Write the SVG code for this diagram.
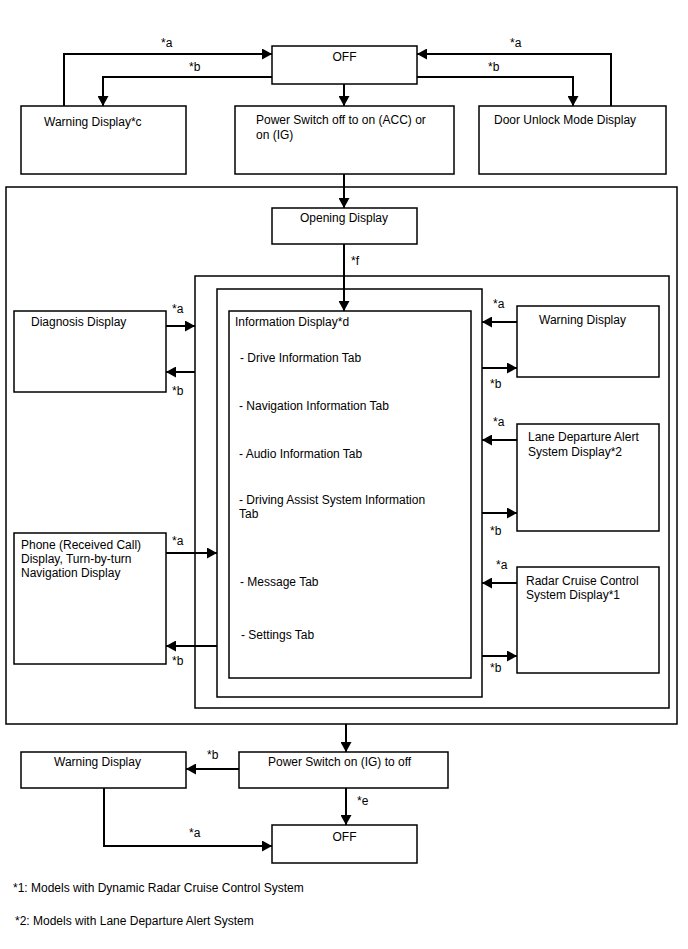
<svg xmlns="http://www.w3.org/2000/svg" width="688" height="949" viewBox="0 0 688 949">
<style>
.box{fill:#fff;stroke:#000;stroke-width:1.5}
.frame{fill:none;stroke:#000;stroke-width:1.5}
.c{fill:none;stroke:#000;stroke-width:2;marker-end:url(#ah)}
.cn{fill:none;stroke:#000;stroke-width:2}
text{font-family:"Liberation Sans",Arial,sans-serif;font-size:12px;fill:#000}
.m{text-anchor:middle}
</style>
<defs>
<marker id="ah" markerUnits="userSpaceOnUse" markerWidth="11" markerHeight="11" refX="10" refY="5.5" orient="auto">
<path d="M0,0 L10,5.5 L0,11 Z" fill="#000"/>
</marker>
</defs>
<rect width="688" height="949" fill="#fff"/>

<g id="frames">
<rect class="frame" x="6" y="187" width="671" height="537"/>
<rect class="frame" x="195" y="276" width="474" height="432"/>
<rect class="frame" x="217" y="289" width="265" height="408"/>
</g>

<g id="off-top"><rect class="box" x="272" y="46" width="145" height="38"/><text class="m" x="344.5" y="61">OFF</text></g>
<g id="warning-c"><rect class="box" x="21" y="106" width="165" height="68"/><text x="44" y="126">Warning Display*c</text></g>
<g id="power-on"><rect class="box" x="235" y="106" width="219" height="68"/><text x="256" y="124">Power Switch off to on (ACC) or</text><text x="256" y="139">on (IG)</text></g>
<g id="door-unlock"><rect class="box" x="479" y="106" width="187" height="68"/><text x="494" y="124">Door Unlock Mode Display</text></g>
<g id="opening"><rect class="box" x="272" y="208" width="145" height="36"/><text class="m" x="344" y="222">Opening Display</text></g>
<g id="diagnosis"><rect class="box" x="14" y="311" width="152" height="81"/><text x="31" y="326">Diagnosis Display</text></g>
<g id="information"><rect class="box" x="229" y="311" width="242" height="367"/>
<text x="235" y="326">Information Display*d</text>
<text x="240" y="362">- Drive Information Tab</text>
<text x="239" y="410">- Navigation Information Tab</text>
<text x="239" y="458">- Audio Information Tab</text>
<text x="239" y="504">- Driving Assist System Information</text>
<text x="239" y="518">Tab</text>
<text x="240" y="586">- Message Tab</text>
<text x="241" y="639">- Settings Tab</text>
</g>
<g id="phone"><rect class="box" x="14" y="533" width="152" height="131"/><text x="21" y="549">Phone (Received Call)</text><text x="21" y="563">Display, Turn-by-turn</text><text x="21" y="577">Navigation Display</text></g>
<g id="warning-right"><rect class="box" x="517" y="306" width="142" height="71"/><text x="539" y="324">Warning Display</text></g>
<g id="lane"><rect class="box" x="517" y="424" width="142" height="107"/><text x="528" y="441">Lane Departure Alert</text><text x="528" y="456">System Display*2</text></g>
<g id="radar"><rect class="box" x="517" y="567" width="142" height="106"/><text x="526" y="585">Radar Cruise Control</text><text x="526" y="599">System Display*1</text></g>
<g id="warning-bottom"><rect class="box" x="21" y="752" width="165" height="36"/><text x="54" y="766">Warning Display</text></g>
<g id="power-off"><rect class="box" x="239" y="752" width="209" height="36"/><text x="268" y="766">Power Switch on (IG) to off</text></g>
<g id="off-bottom"><rect class="box" x="272" y="825" width="145" height="38"/><text class="m" x="344.5" y="841">OFF</text></g>

<g id="connectors">
<polyline class="c" points="64,106 64,54 272,54"/>
<polyline class="c" points="272,77 103,77 103,106"/>
<polyline class="c" points="611,106 611,54 417,54"/>
<polyline class="c" points="417,77 573,77 573,106"/>
<line class="c" x1="344" y1="84" x2="344" y2="106"/>
<line class="c" x1="344" y1="174" x2="344" y2="208"/>
<line class="c" x1="344" y1="244" x2="344" y2="311"/>
<line class="c" x1="166" y1="326" x2="195" y2="326"/>
<line class="c" x1="195" y1="372" x2="166" y2="372"/>
<line class="c" x1="166" y1="553" x2="217" y2="553"/>
<line class="c" x1="217" y1="646" x2="166" y2="646"/>
<line class="c" x1="517" y1="322" x2="482" y2="322"/>
<line class="c" x1="482" y1="368" x2="517" y2="368"/>
<line class="c" x1="517" y1="440" x2="482" y2="440"/>
<line class="c" x1="482" y1="513" x2="517" y2="513"/>
<line class="c" x1="517" y1="583" x2="482" y2="583"/>
<line class="c" x1="482" y1="656" x2="517" y2="656"/>
<line class="c" x1="346" y1="724" x2="346" y2="752"/>
<line class="c" x1="239" y1="769" x2="186" y2="769"/>
<line class="c" x1="346" y1="788" x2="346" y2="825"/>
<polyline class="c" points="104,788 104,846 272,846"/>
</g>

<g id="labels">
<text x="161" y="47">*a</text>
<text x="189" y="71">*b</text>
<text x="510" y="47">*a</text>
<text x="488" y="71">*b</text>
<text x="351" y="265">*f</text>
<text x="172" y="313">*a</text>
<text x="172" y="395">*b</text>
<text x="172" y="545">*a</text>
<text x="172" y="665">*b</text>
<text x="493" y="308">*a</text>
<text x="490" y="388">*b</text>
<text x="493" y="426">*a</text>
<text x="490" y="535">*b</text>
<text x="496" y="569">*a</text>
<text x="490" y="672">*b</text>
<text x="207" y="759">*b</text>
<text x="357" y="805">*e</text>
<text x="189" y="837">*a</text>
<text x="13" y="892">*1: Models with Dynamic Radar Cruise Control System</text>
<text x="15" y="925">*2: Models with Lane Departure Alert System</text>
</g>
</svg>
